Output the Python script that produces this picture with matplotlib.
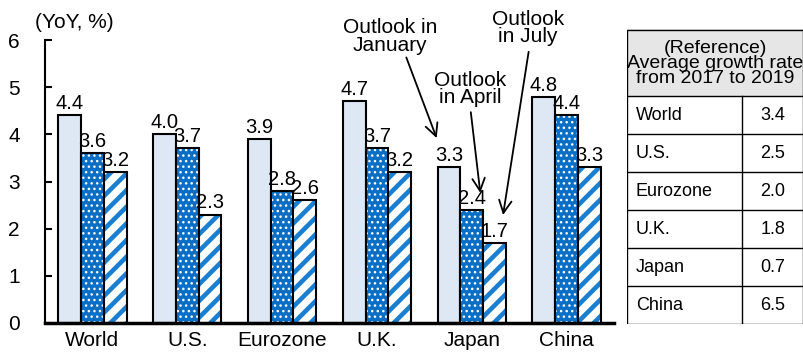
import matplotlib.pyplot as plt
from matplotlib.patches import Rectangle

plt.rcParams['font.family'] = ['Liberation Sans', 'DejaVu Sans']

# data
regions = ["World", "U.S.", "Eurozone", "U.K.", "Japan", "China"]
jan = [4.4, 4.0, 3.9, 4.7, 3.3, 4.8]
apr = [3.6, 3.7, 2.8, 3.7, 2.4, 4.4]
jul = [3.2, 2.3, 2.6, 3.2, 1.7, 3.3]
avg_1719 = ["3.4", "2.5", "2.0", "1.8", "0.7", "6.5"]

light = "#dde8f4"
blue = "#0a6fc4"
fs = 15

fig = plt.figure(figsize=(8.04, 3.52), dpi=100)
ax = fig.add_axes([45/804, 1-323/352, (614-45)/804, (323-40)/352])

w = 0.24
xs = list(range(len(regions)))

def bars(xpos, vals, face, hatch=None, hcol=None, hlw=1.0):
    if hatch:
        bb = ax.bar(xpos, vals, w, color=face, hatch=hatch, edgecolor=hcol, linewidth=0)
        for p in bb:
            p.set_hatch_linewidth(hlw)
    else:
        ax.bar(xpos, vals, w, color=face, linewidth=0)
    ax.bar(xpos, vals, w, fill=False, edgecolor="black", linewidth=1.5)
    for x, v in zip(xpos, vals):
        ax.annotate(f"{v:.1f}", (x, v), xytext=(0, 1.5), textcoords="offset points",
                    ha="center", va="bottom", fontsize=14.5)

bars([x - w for x in xs], jan, light)
bars(xs, apr, blue, hatch="...", hcol="white", hlw=1.0)
bars([x + w for x in xs], jul, "white", hatch="//", hcol="#1a7fd0", hlw=3.3)

ax.set_xlim(-0.5, 5.5)
ax.set_ylim(0, 6)
ax.set_yticks(range(7))
ax.set_xticks(xs)
ax.set_xticklabels(regions, fontsize=fs)
ax.tick_params(axis="y", direction="in", length=5, width=1.5, pad=18, labelsize=fs)
ax.tick_params(axis="x", length=0, pad=6)
for s in ["top", "right"]:
    ax.spines[s].set_visible(False)
ax.spines["left"].set_linewidth(1.5)
ax.spines["bottom"].set_linewidth(2.5)

fig.text(35/804, 1-22/352, "(YoY, %)", fontsize=fs, ha="left", va="center")

# outlook annotations
arr = dict(arrowstyle="->,head_length=0.6,head_width=0.3", color="black", lw=1.3,
           mutation_scale=15, shrinkA=0, shrinkB=0)
ax.text(3.14, 6.07, "Outlook in\nJanuary", ha="center", va="center", fontsize=fs,
        linespacing=0.9, clip_on=False)
ax.annotate("", xy=(3.63, 3.92), xytext=(3.31, 5.63), arrowprops=arr, annotation_clip=False)
ax.text(3.98, 4.96, "Outlook\nin April", ha="center", va="center", fontsize=fs,
        linespacing=0.9, clip_on=False)
ax.annotate("", xy=(4.09, 2.76), xytext=(3.99, 4.47), arrowprops=arr)
ax.text(4.59, 6.25, "Outlook\nin July", ha="center", va="center", fontsize=fs,
        linespacing=0.9, clip_on=False)
ax.annotate("", xy=(4.33, 2.29), xytext=(4.60, 5.75), arrowprops=arr, annotation_clip=False)

# reference table
tx = fig.add_axes([627/804, 1-324/352, (804-627)/804, (324-29)/352])
tx.set_xlim(0, 177)
tx.set_ylim(295, 0)
tx.axis("off")
head_h = 67
row_h = (295 - head_h) / len(regions)
tx.add_patch(Rectangle((0, 0), 176, head_h, facecolor="#e6e6e6", edgecolor="none"))
tx.add_patch(Rectangle((0.5, 0.5), 175.5, 294, fill=False, edgecolor="black", lw=1.0))
tx.plot([0, 176], [head_h, head_h], color="black", lw=1.0)
tx.plot([115, 115], [head_h, 295], color="black", lw=1.0)
tx.text(88, head_h/2 + 1, "(Reference)\nAverage growth rate\nfrom 2017 to 2019",
        ha="center", va="center", fontsize=14, linespacing=0.86)
for i, (name, val) in enumerate(zip(regions, avg_1719)):
    y0 = head_h + i * row_h
    if i > 0:
        tx.plot([0, 176], [y0, y0], color="black", lw=1.0)
    tx.text(9, y0 + row_h/2, name, ha="left", va="center", fontsize=13)
    tx.text(146, y0 + row_h/2, val, ha="center", va="center", fontsize=13)

fig.savefig("out.png", dpi=100)
